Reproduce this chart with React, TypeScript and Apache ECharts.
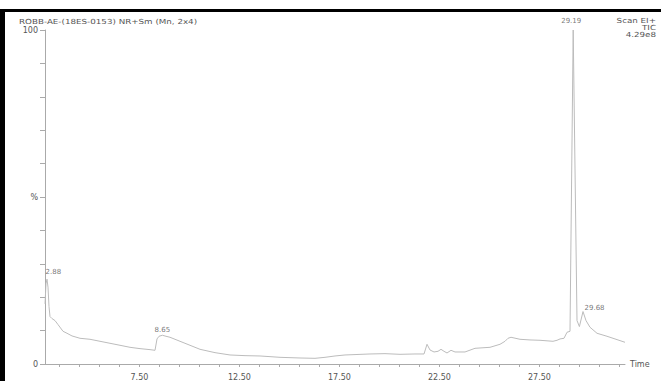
import React, { useEffect, useRef } from "react";
import * as echarts from "echarts";

// Total ion chromatogram: retention time (min) vs relative intensity (%)
const retentionTimes = [
  2.78, 2.83, 2.88, 2.93, 2.98, 3.03, 3.13, 3.28, 3.43, 3.68,
  3.88, 4.13, 4.53, 5.03, 5.53, 6.03, 6.53, 7.03, 7.53, 8.03,
  8.28, 8.38, 8.48, 8.65, 8.83, 9.03, 9.53, 10.03, 10.53, 11.28,
  12.03, 12.78, 13.53, 14.53, 15.53, 16.28, 16.78, 17.28, 17.78, 19.03,
  19.78, 20.53, 21.28, 21.73, 21.88, 22.03, 22.23, 22.43, 22.58, 22.73,
  22.88, 23.08, 23.28, 23.78, 24.28, 25.03, 25.53, 25.78, 25.93, 26.08,
  26.53, 27.03, 27.53, 28.18, 28.38, 28.53, 28.73, 28.88, 29.03, 29.19,
  29.38, 29.5, 29.68, 29.83, 30.03, 30.38, 30.88, 31.28, 31.78,
];
const relIntensity = [
  18, 24, 25.4, 23, 17.2, 14.2, 13.6, 13.0, 11.8, 9.8,
  9.2, 8.4, 7.7, 7.4, 6.8, 6.2, 5.6, 5.0, 4.6, 4.3,
  4.1, 7.5, 8.3, 8.6, 8.3, 8.0, 6.8, 5.6, 4.4, 3.4,
  2.7, 2.5, 2.4, 2.0, 1.8, 1.7, 2.0, 2.4, 2.7, 3.0,
  3.1, 2.9, 3.0, 3.0, 5.9, 4.2, 3.6, 3.8, 4.4, 3.8,
  3.3, 4.1, 3.6, 3.6, 4.7, 5.0, 5.9, 6.8, 7.7, 8.0,
  7.4, 7.2, 7.1, 6.8, 7.1, 7.5, 7.7, 9.5, 9.8, 100,
  13, 11.2, 15.7, 13, 11, 9.2, 8.3, 7.5, 6.5,
];

// Labelled peaks (retention time, intensity)
const peakTimes = [2.88, 8.65, 29.19, 29.68];
const peakIntensity = [25.4, 8.6, 100, 15.7];

// Axis ticks and labels
const timeTicks = [
  3.5, 4.5, 5.5, 6.5, 7.5, 8.5, 9.5, 10.5, 11.5, 12.5, 13.5, 14.5, 15.5,
  16.5, 17.5, 18.5, 19.5, 20.5, 21.5, 22.5, 23.5, 24.5, 25.5, 26.5, 27.5,
  28.5, 29.5, 30.5, 31.5,
];
const timeLabels = [7.5, 12.5, 17.5, 22.5, 27.5];

const titleText = "ROBB-AE-(18ES-0153) NR+Sm (Mn, 2x4)";
const scanInfo = ["Scan EI+", "TIC", "4.29e8"];

const FONT = "DejaVu Sans";
const TEXT_COLOR = "#555";
const AXIS_COLOR = "#aaa";

export default function App() {
  const ref = useRef<HTMLDivElement>(null);

  useEffect(() => {
    if (!ref.current) return;
    const chart = echarts.init(ref.current, null, { renderer: "svg" });

    const trace = retentionTimes.map((t, i) => [t, relIntensity[i]]);

    const labelPlacement: any[] = [
      { position: "right", distance: 0, offset: [-2, -7] },
      { position: "top", distance: 1, offset: [0, 0] },
      { position: "top", distance: 5, offset: [-2, 0] },
      { position: "right", distance: 1, offset: [0, -4] },
    ];
    const peaks = peakTimes.map((t, i) => ({
      value: [t, peakIntensity[i]],
      label: {
        show: true,
        formatter: t.toFixed(2),
        ...labelPlacement[i],
      },
    }));

    const headerLines = scanInfo.map((s, i) => ({
      type: "text",
      x: 656,
      y: 21 + i * 7,
      scaleX: 1.25,
      style: {
        text: s,
        align: "right",
        verticalAlign: "middle",
        fill: TEXT_COLOR,
        font: `7px "${FONT}"`,
      },
    }));

    chart.setOption({
      animation: false,
      backgroundColor: "#fff",
      grid: { left: 45, right: 36, top: 30, bottom: 13, containLabel: false },
      xAxis: {
        type: "value",
        min: 2.78,
        max: 31.78,
        name: "Time",
        nameLocation: "end",
        nameGap: 5,
        nameTextStyle: { color: TEXT_COLOR, fontFamily: FONT, fontSize: 8, verticalAlign: "middle" },
        axisLine: { show: true, lineStyle: { color: AXIS_COLOR, width: 1 } },
        axisTick: {
          show: true,
          inside: false,
          length: 3,
          customValues: timeTicks,
          lineStyle: { color: AXIS_COLOR },
        },
        axisLabel: {
          show: true,
          customValues: timeLabels,
          formatter: (v: number) => v.toFixed(2),
          color: TEXT_COLOR,
          fontFamily: FONT,
          fontSize: 8,
          margin: 9,
        },
        splitLine: { show: false },
      },
      yAxis: {
        type: "value",
        min: 0,
        max: 100,
        interval: 10,
        axisLine: { show: true, lineStyle: { color: AXIS_COLOR, width: 1 } },
        axisTick: { show: true, length: 5, lineStyle: { color: AXIS_COLOR } },
        axisLabel: {
          show: true,
          formatter: (v: number) => (v === 0 ? "0" : v === 100 ? "100" : v === 50 ? "%" : ""),
          color: TEXT_COLOR,
          fontFamily: FONT,
          fontSize: 8,
          margin: 7,
        },
        splitLine: { show: false },
      },
      series: [
        {
          type: "line",
          data: trace,
          showSymbol: false,
          symbol: "none",
          lineStyle: { color: "#bcbcbc", width: 1 },
          silent: true,
          z: 2,
        },
        {
          type: "scatter",
          data: peaks,
          symbolSize: 1,
          itemStyle: { color: "rgba(0,0,0,0)" },
          label: {
            show: true,
            color: TEXT_COLOR,
            fontFamily: FONT,
            fontSize: 7,
          },
          silent: true,
          z: 3,
        },
      ],
      graphic: [
        { type: "rect", shape: { x: 0, y: 9, width: 661, height: 3 }, style: { fill: "#000" } },
        { type: "rect", shape: { x: 0, y: 9, width: 5, height: 372 }, style: { fill: "#000" } },
        {
          type: "text",
          x: 19,
          y: 22,
          scaleX: 1.25,
          style: {
            text: titleText,
            align: "left",
            verticalAlign: "middle",
            fill: TEXT_COLOR,
            font: `7px "${FONT}"`,
          },
        },
        ...headerLines,
      ],
    });

    return () => chart.dispose();
  }, []);

  return (
    <div
      ref={ref}
      style={{ position: "fixed", left: 0, top: 0, width: 661, height: 381, background: "#fff" }}
    />
  );
}
